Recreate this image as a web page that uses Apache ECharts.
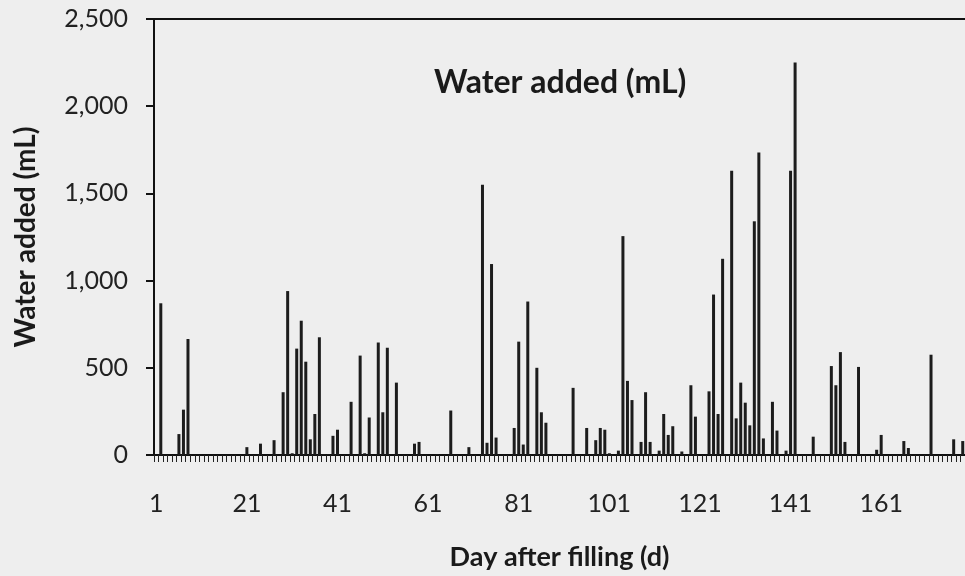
<!DOCTYPE html>
<html>
<head>
<meta charset="utf-8">
<script src="https://cdn.jsdelivr.net/npm/echarts@6/dist/echarts.min.js"></script>
<style>
  html, body { margin: 0; padding: 0; background: #eeeeee; }
  #chart { width: 965px; height: 576px; }
</style>
</head>
<body>
<div id="chart"></div>
<script>
// Day numbers (categories)
var days = [];
for (var d = 1; d <= 179; d++) { days.push(String(d)); }

// Water added per day (mL)
var water = [
  0, 870, 0, 0, 0, 120, 260, 665, 0, 0,
  0, 0, 0, 0, 0, 0, 0, 0, 0, 0,
  45, 0, 0, 65, 0, 0, 85, 0, 360, 940,
  10, 610, 770, 535, 90, 235, 675, 5, 5, 110,
  145, 0, 0, 305, 0, 570, 10, 215, 0, 645,
  245, 615, 0, 415, 0, 0, 0, 65, 75, 0,
  0, 0, 5, 0, 0, 255, 0, 0, 0, 45,
  0, 0, 1550, 70, 1095, 100, 0, 0, 0, 155,
  650, 60, 880, 0, 500, 245, 185, 0, 0, 0,
  0, 0, 385, 0, 0, 155, 0, 85, 155, 145,
  10, 0, 25, 1255, 425, 315, 0, 75, 360, 75,
  0, 25, 235, 115, 165, 0, 20, 0, 400, 220,
  0, 0, 365, 920, 235, 1125, 0, 1630, 210, 415,
  300, 170, 1340, 1735, 95, 0, 305, 140, 0, 25,
  1630, 2250, 0, 0, 0, 105, 0, 0, 0, 510,
  400, 590, 75, 0, 0, 505, 0, 0, 0, 30,
  115, 0, 0, 0, 0, 80, 40, 0, 0, 0,
  0, 575, 0, 0, 0, 0, 90, 0, 80
];

// Axis settings / labels
var yMin = 0, yMax = 2500, yStep = 500;
var xLabelEvery = 20;
var titleText = 'Water added (mL)';
var xName = 'Day after filling (d)';
var yName = 'Water added (mL)';

var FONT = 'Lato';
var chart = echarts.init(document.getElementById('chart'), null, { renderer: 'canvas' });
chart.setOption({
  backgroundColor: '#eeeeee',
  animation: false,
  title: {
    text: titleText,
    left: 429,
    top: 62,
    textStyle: { fontFamily: FONT, fontWeight: 'bold', fontSize: 32, color: '#1a1a1a' }
  },
  grid: { left: 154, right: 0, top: 19, bottom: 119, containLabel: false },
  xAxis: [{
    type: 'category',
    data: days,
    boundaryGap: true,
    axisLine: { show: true, lineStyle: { color: '#111', width: 2 } },
    axisTick: { show: true, interval: 0, length: 7, lineStyle: { color: '#222', width: 1 } },
    axisLabel: {
      interval: xLabelEvery - 1,
      fontFamily: FONT, fontSize: 25, color: '#222', margin: 36
    },
    name: xName,
    nameLocation: 'middle',
    nameGap: 89,
    nameTextStyle: { fontFamily: FONT, fontWeight: 'bold', fontSize: 27, color: '#1a1a1a' }
  }, {
    type: 'category',
    data: days,
    position: 'top',
    axisLine: { show: true, lineStyle: { color: '#111', width: 2 } },
    axisTick: { show: false },
    axisLabel: { show: false }
  }],
  yAxis: {
    type: 'value',
    min: yMin, max: yMax, interval: yStep,
    axisLine: { show: true, lineStyle: { color: '#111', width: 2 } },
    axisTick: { show: true, length: 8, lineStyle: { color: '#111', width: 2 } },
    splitLine: { show: false },
    axisLabel: {
      fontFamily: FONT, fontSize: 25, color: '#222', margin: 26,
      formatter: function (v) { return v.toLocaleString('en-US'); }
    },
    name: yName,
    nameLocation: 'middle',
    nameGap: 114,
    nameTextStyle: { fontFamily: FONT, fontWeight: 'bold', fontSize: 28, color: '#1a1a1a' }
  },
  series: [{
    type: 'bar',
    data: water,
    barWidth: 3,
    itemStyle: { color: '#1c1c1c' }
  }]
});
</script>
</body>
</html>
